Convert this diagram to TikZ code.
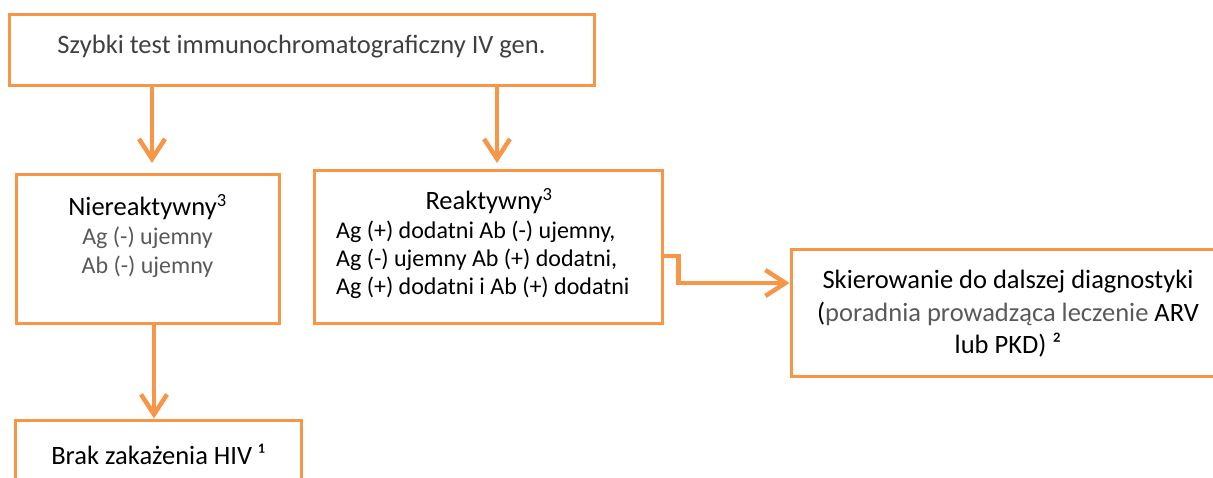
\documentclass[tikz,border=0pt]{standalone}
\usepackage{fontspec}
\setmainfont{Carlito}
\usetikzlibrary{arrows.meta}
\definecolor{accent}{HTML}{F79646}
\definecolor{darktext}{HTML}{404040}
\definecolor{softtext}{HTML}{595959}
\tikzset{
  box/.style={draw=accent, line width=3pt, rectangle, inner sep=0pt},
  conn/.style={draw=accent, line width=4.5pt, -{Straight Barb[length=20pt,width=26pt]}},
  txt/.style={inner sep=0pt, align=center, font=\fontsize{26.5}{32}\selectfont},
  smalltxt/.style={inner sep=0pt, font=\fontsize{24}{29}\selectfont},
}
\begin{document}
\begin{tikzpicture}[x=1pt, y=-1pt]
\useasboundingbox (0,0) rectangle (1213,477);

% boxes
\node[box, minimum width=585pt, minimum height=71pt] (top) at (301.5,49.5) {};
\node[box, minimum width=263pt, minimum height=149pt] (nier) at (147.5,248.5) {};
\node[box, minimum width=348pt, minimum height=153pt] (reak) at (488,246.5) {};
\node[box, minimum width=434pt, minimum height=127pt] (skier) at (1008,312.5) {};
\node[box, minimum width=286pt, minimum height=90pt] (brak) at (158,465) {};

% texts
\node[txt, text=darktext] (toptxt) at (301.5,47) {Szybki test immunochromatograficzny IV gen.};
\node[txt] (nierhead) at (147.5,207) {Niereaktywny\textsuperscript{3}};
\node[smalltxt, align=center, text=softtext] (niertxt) at (147.5,252)
  {Ag (-) ujemny\\ Ab (-) ujemny};
\node[txt] (reakhead) at (489,201) {Reaktywny\textsuperscript{3}};
\node[smalltxt, align=left, anchor=west, font=\fontsize{24}{28}\selectfont] (reaktxt) at (336,260)
  {Ag (+) dodatni Ab (-) ujemny,\\ Ag (-) ujemny Ab (+) dodatni,\\ Ag (+) dodatni i Ab (+) dodatni};
\node[txt, font=\fontsize{26.5}{32.5}\selectfont] (skiertxt) at (1008,314)
  {Skierowanie do dalszej diagnostyki\\
   (\textcolor{softtext}{poradnia prowadząca leczenie} ARV\\ lub PKD) ²};
\node[txt] (braktxt) at (158,454) {Brak zakażenia HIV ¹};

% arrow end points
\coordinate (endL) at (152,163);
\coordinate (endR) at (497,163);

% connectors
\draw[conn] (top.south -| endL) -- (endL);
\draw[conn] (top.south -| endR) -- (endR);
\draw[conn] (nier.south -| 154,0) -- (brak.north -| 154,0);
\draw[conn] ([yshift=-9.5pt]reak.east) -- ++(15,0) |- ([yshift=29.5pt]skier.west);
\end{tikzpicture}
\end{document}
